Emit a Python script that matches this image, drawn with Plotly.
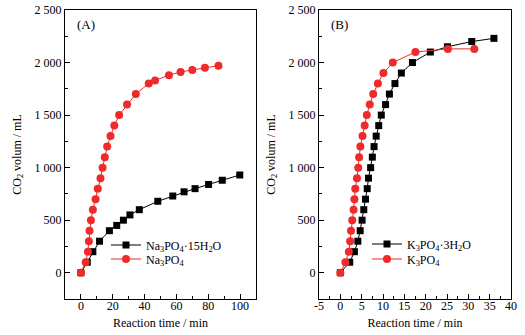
import plotly.graph_objects as go

# Panel A: Na3PO4 series
na_anh_t = [0, 3, 4.4, 5, 5.4, 6.3, 7.5, 9.2, 10.6, 12.3, 13.6, 15.0, 16.5, 18.6, 21, 24, 29, 34.5, 42.6, 46.6, 55.3, 62.6, 70, 77.9, 86.4]
na_anh_v = [0, 100, 200, 300, 400, 500, 600, 700, 800, 900, 1000, 1100, 1200, 1300, 1400, 1500, 1600, 1700, 1800, 1830, 1880, 1910, 1930, 1950, 1970]
na_hyd_t = [0, 4, 7.5, 11.7, 17.9, 22.5, 26.7, 30.8, 36.7, 48.3, 57.7, 64.8, 71.7, 80.2, 88.8, 99.8]
na_hyd_v = [0, 100, 200, 300, 400, 450, 500, 550, 600, 680, 730, 770, 800, 840, 880, 930]

# Panel B: K3PO4 series
k_anh_t = [0, 1.2, 2.0, 2.3, 2.5, 2.8, 3.1, 3.3, 3.5, 3.9, 4.2, 4.4, 4.7, 5.2, 5.7, 6.2, 6.9, 7.7, 8.8, 10.1, 12.3, 17.6, 25.2, 31.4]
k_anh_v = [0, 100, 200, 300, 400, 500, 600, 700, 800, 900, 1000, 1100, 1200, 1300, 1400, 1500, 1600, 1700, 1800, 1900, 2000, 2100, 2130, 2130]
k_hyd_t = [0, 2.2, 3.3, 4.1, 4.65, 5.1, 5.5, 5.9, 6.3, 6.6, 7.1, 7.5, 7.9, 8.4, 9.0, 9.6, 10.6, 11.5, 12.8, 14.3, 16.9, 21.1, 25.1, 30.8, 36.0]
k_hyd_v = [0, 100, 200, 300, 400, 500, 600, 700, 800, 900, 1000, 1100, 1200, 1300, 1400, 1500, 1600, 1700, 1800, 1900, 2000, 2100, 2150, 2200, 2230]

y_tickvals = [0, 500, 1000, 1500, 2000, 2500]
y_ticktext = ["0", "500", "1 000", "1 500", "2 000", "2 500"]
xa_tickvals = [0, 20, 40, 60, 80, 100]
xb_tickvals = [-5, 0, 5, 10, 15, 20, 25, 30, 35, 40]
xb_ticktext = ["-5", "0", "5", "10", "15", "20", "25", "30", "35", "40"]

RED = "#ee2a2a"
BLACK = "#000000"
FONT = "Liberation Serif"
W, H = 525, 335

fig = go.Figure()

def add(x, y, name, color, symbol, size, xa, ya, leg):
    fig.add_trace(go.Scatter(x=x, y=y, mode="lines+markers", name=name,
                             line=dict(color=color, width=1),
                             marker=dict(symbol=symbol, size=size, color=color),
                             xaxis=xa, yaxis=ya, legend=leg, showlegend=True))

add(na_hyd_t, na_hyd_v, "Na<sub>3</sub>PO<sub>4</sub>·15H<sub>2</sub>O", BLACK, "square", 7, "x", "y", "legend")
add(na_anh_t, na_anh_v, "Na<sub>3</sub>PO<sub>4</sub>", RED, "circle", 8, "x", "y", "legend2")
add(k_hyd_t, k_hyd_v, "K<sub>3</sub>PO<sub>4</sub>·3H<sub>2</sub>O", BLACK, "square", 7, "x2", "y2", "legend3")
add(k_anh_t, k_anh_v, "K<sub>3</sub>PO<sub>4</sub>", RED, "circle", 8, "x2", "y2", "legend4")

axis_common = dict(showline=True, linecolor="black", linewidth=1, mirror=True,
                   ticks="inside", ticklen=5, tickwidth=1, tickcolor="black",
                   showgrid=False, zeroline=False, automargin=False,
                   tickfont=dict(family=FONT, size=12, color="black"))

ydom = [1 - 299 / H, 1 - 10 / H]
ytitle = dict(text="CO<sub>2</sub> volum / mL", font=dict(family=FONT, size=12, color="black"), standoff=10)
xtitle = dict(text="Reaction time / min", font=dict(family=FONT, size=12, color="black"), standoff=6)

def leg(xpx, ypx):
    return dict(x=xpx / W, y=1 - ypx / H, xanchor="left", yanchor="middle",
                bgcolor="rgba(0,0,0,0)", font=dict(family=FONT, size=12, color="black"),
                itemwidth=30, borderwidth=0, visible=True)

fig.update_layout(
    width=W, height=H,
    showlegend=True,
    margin=dict(l=0, r=0, t=0, b=0),
    paper_bgcolor="white", plot_bgcolor="white",
    font=dict(family=FONT, size=12, color="black"),
    xaxis=dict(domain=[65 / W, 256 / W], range=[-10, 110], anchor="y",
               tickvals=xa_tickvals, minor=dict(dtick=10, ticks="inside", ticklen=3, tickcolor="black"),
               title=xtitle, ticklabelstandoff=-4, **axis_common),
    yaxis=dict(domain=ydom, range=[-250, 2500], anchor="x",
               tickvals=y_tickvals, ticktext=y_ticktext,
               minor=dict(dtick=250, ticks="inside", ticklen=3, tickcolor="black"),
               title=ytitle, **axis_common),
    xaxis2=dict(domain=[319 / W, 511 / W], range=[-5, 40], anchor="y2",
                tickvals=xb_tickvals, ticktext=xb_ticktext,
                minor=dict(dtick=2.5, ticks="inside", ticklen=3, tickcolor="black"),
                title=xtitle, ticklabelstandoff=-4, **axis_common),
    yaxis2=dict(domain=ydom, range=[-250, 2500], anchor="x2",
                tickvals=y_tickvals, ticktext=y_ticktext,
                minor=dict(dtick=250, ticks="inside", ticklen=3, tickcolor="black"),
                title=ytitle, **axis_common),
    legend=leg(106, 245),
    legend2=leg(106, 259),
    legend3=leg(367, 244),
    legend4=leg(367, 259),
    annotations=[
        dict(text="(A)", x=75 / W, y=1 - 25 / H, xref="paper", yref="paper",
             xanchor="left", yanchor="middle", showarrow=False,
             font=dict(family=FONT, size=13, color="black")),
        dict(text="(B)", x=329 / W, y=1 - 25 / H, xref="paper", yref="paper",
             xanchor="left", yanchor="middle", showarrow=False,
             font=dict(family=FONT, size=13, color="black")),
    ],
)

fig.write_html("out.html", config=dict(displayModeBar=False),
               post_script="document.body.style.margin='0';")
